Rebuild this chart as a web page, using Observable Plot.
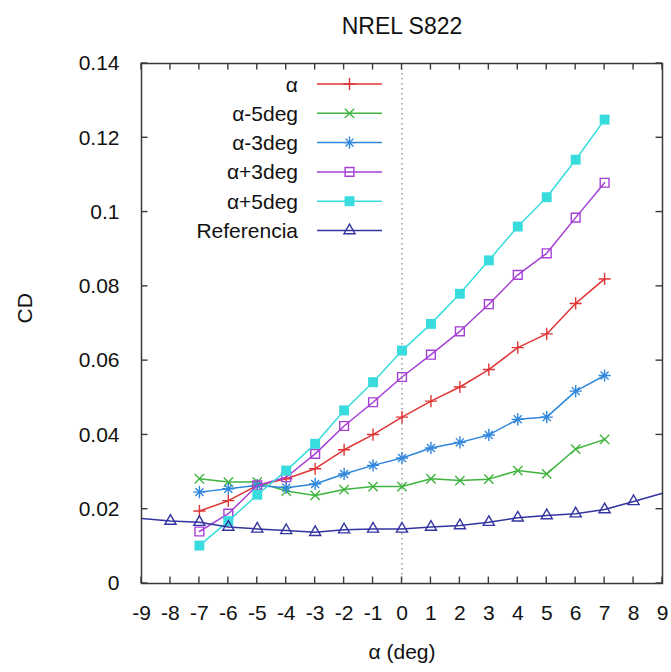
<!DOCTYPE html>
<html><head><meta charset="utf-8">
<script src="https://cdn.jsdelivr.net/npm/d3@7"></script>
<script src="https://cdn.jsdelivr.net/npm/@observablehq/plot@0.6"></script>
<style>
body{margin:0;background:#fff;}
#wrap{position:relative;width:671px;height:672px;font-family:"Liberation Sans",Arial,sans-serif;}
</style></head><body><div id="wrap"></div>
<script>
// ---- data ----
const alphaX = [-7,-6,-5,-4,-3,-2,-1,0,1,2,3,4,5,6,7];
const cdAlpha = [0.0195,0.0223,0.0264,0.0282,0.0309,0.0360,0.0401,0.0448,0.0491,0.0529,0.0576,0.0635,0.0672,0.0754,0.0820];
const cdMinus5 = [0.0282,0.0273,0.0273,0.0249,0.0237,0.0253,0.0261,0.0261,0.0282,0.0277,0.0281,0.0304,0.0295,0.0362,0.0388];
const cdMinus3 = [0.0246,0.0255,0.0264,0.0258,0.0268,0.0295,0.0318,0.0338,0.0365,0.0380,0.0400,0.0442,0.0448,0.0518,0.0560];
const cdPlus3 = [0.0140,0.0188,0.0264,0.0286,0.0349,0.0424,0.0488,0.0556,0.0616,0.0679,0.0752,0.0831,0.0889,0.0985,0.1079];
const cdPlus5 = [0.0102,0.0168,0.0239,0.0304,0.0376,0.0466,0.0542,0.0627,0.0699,0.0780,0.0870,0.0961,0.1040,0.1141,0.1249];
const refX = [-9,-8,-7,-6,-5,-4,-3,-2,-1,0,1,2,3,4,5,6,7,8,9];
const cdRef = [0.0175,0.0168,0.0165,0.0152,0.0147,0.0143,0.0138,0.0145,0.0147,0.0147,0.0152,0.0156,0.0165,0.0177,0.0183,0.0188,0.0199,0.0221,0.0243];
const refMarkerRange = [-8, 8];
const xTicks = [-9,-8,-7,-6,-5,-4,-3,-2,-1,0,1,2,3,4,5,6,7,8,9];
const yTicks = [0,0.02,0.04,0.06,0.08,0.1,0.12,0.14];
const seriesNames = ["α","α-5deg","α-3deg","α+3deg","α+5deg","Referencia"];
const seriesColors = ["#e03535","#3fb43f","#2f86dc","#a63fd4","#38dcdc","#3434a0"];
const titleText = "NREL S822";
const xLabel = "α (deg)";
const yLabel = "CD";

// symbols per series: [name, r, filled]
const seriesSymbols = [
  [["plus",4,false]],
  [["times",4.3,false]],
  [["plus",4,false],["times",3.7,false]],
  [["square2",5.6,false]],
  [["square",5.6,true]],
  [["triangle2",5.3,false]]
];

const seriesData = [
  alphaX.map((x,i)=>({x, y: cdAlpha[i]})),
  alphaX.map((x,i)=>({x, y: cdMinus5[i]})),
  alphaX.map((x,i)=>({x, y: cdMinus3[i]})),
  alphaX.map((x,i)=>({x, y: cdPlus3[i]})),
  alphaX.map((x,i)=>({x, y: cdPlus5[i]})),
  refX.map((x,i)=>({x, y: cdRef[i]}))
];
const markerData = seriesData.map((d,i)=> i===5 ? d.filter(p=>p.x>=refMarkerRange[0] && p.x<=refMarkerRange[1]) : d);

const W = 671, H = 672, ML = 141, MR = 9, MT = 63, MB = 89;
const TK = 6.5;
const marks = [];
marks.push(Plot.ruleX([0], {stroke:"#8a8a8a", strokeWidth:1.3, strokeDasharray:"1.5,3.5"}));
seriesData.forEach((d,i)=>{
  marks.push(Plot.line(d, {x:"x", y:"y", stroke: seriesColors[i], strokeWidth:1.5}));
  seriesSymbols[i].forEach(([sym,r,filled])=>{
    marks.push(Plot.dot(markerData[i], {x:"x", y:"y", symbol: sym, r,
      fill: filled ? seriesColors[i] : "none", stroke: seriesColors[i], strokeWidth: filled?0:1.4}));
  });
});
marks.push(Plot.frame({stroke:"#3a3a3a", strokeWidth:1.5}));
const fmtY = d => String(+d.toFixed(2));
const fmtX = d => String(d);
marks.push(Plot.axisY({ticks: yTicks, tickSize:0, tickPadding:22, tickFormat: fmtY, fontSize:21, label:null}));
marks.push(Plot.axisX({ticks: xTicks, tickSize:0, tickPadding:22, tickFormat: fmtX, fontSize:21, label:null}));
marks.push(Plot.text([titleText], {frameAnchor:"top", dy:-46, fontSize:23, fill:"#111"}));
marks.push(Plot.text([xLabel], {frameAnchor:"bottom", dy:75, fontSize:21, fill:"#111"}));
marks.push(Plot.text([yLabel], {frameAnchor:"left", dx:-116, rotate:-90, fontSize:21, fill:"#111"}));

const chart = Plot.plot({
  width: W, height: H,
  marginLeft: ML, marginRight: MR, marginTop: MT, marginBottom: MB,
  x: {domain: [-9, 9]},
  y: {domain: [0, 0.14]},
  style: {fontFamily: '"Liberation Sans", Arial, sans-serif', color:"#111", background:"#fff"},
  marks
});
const wrap = document.getElementById("wrap");
wrap.appendChild(chart);

// ---- overlay: inward ticks (through the chart's own scales) and legend ----
const sx = chart.scale("x"), sy = chart.scale("y");
const lg = d3.select(wrap).append("svg")
  .attr("width",W).attr("height",H)
  .style("position","absolute").style("left","0px").style("top","0px")
  .style("pointer-events","none")
  .style("font-family",'"Liberation Sans", Arial, sans-serif');
const yTop = sy.apply(0.14), yBot = sy.apply(0), xL = sx.apply(-9), xR = sx.apply(9);
const tg = lg.append("g").attr("stroke","#3a3a3a").attr("stroke-width",1.4);
xTicks.forEach(v=>{
  const px = sx.apply(v);
  tg.append("line").attr("x1",px).attr("x2",px).attr("y1",yBot).attr("y2",yBot-TK);
  tg.append("line").attr("x1",px).attr("x2",px).attr("y1",yTop).attr("y2",yTop+TK);
});
yTicks.forEach(v=>{
  const py = sy.apply(v);
  tg.append("line").attr("x1",xL).attr("x2",xL+TK).attr("y1",py).attr("y2",py);
  tg.append("line").attr("x1",xR).attr("x2",xR-TK).attr("y1",py).attr("y2",py);
});

const d3Sym = {plus: d3.symbolPlus, times: d3.symbolTimes, square2: d3.symbolSquare2, square: d3.symbolSquare, triangle2: d3.symbolTriangle2};
const legTextRight = 298, legLineX1 = 317, legLineX2 = 382, legTop = 84, legStep = 29.3;
seriesNames.forEach((name,i)=>{
  const cy = legTop + i*legStep;
  lg.append("text").attr("x",legTextRight).attr("y",cy).attr("dy","0.36em")
    .attr("text-anchor","end").attr("font-size",21).attr("fill","#111").text(name);
  lg.append("line").attr("x1",legLineX1).attr("x2",legLineX2).attr("y1",cy).attr("y2",cy)
    .attr("stroke",seriesColors[i]).attr("stroke-width",1.5);
  const mx = (legLineX1+legLineX2)/2;
  seriesSymbols[i].forEach(([sym,r,filled])=>{
    lg.append("path").attr("d", d3.symbol(d3Sym[sym], r*r*Math.PI)())
      .attr("transform",`translate(${mx},${cy})`)
      .attr("fill", filled ? seriesColors[i] : "none")
      .attr("stroke", seriesColors[i]).attr("stroke-width", filled?0:1.4);
  });
});
</script></body></html>
